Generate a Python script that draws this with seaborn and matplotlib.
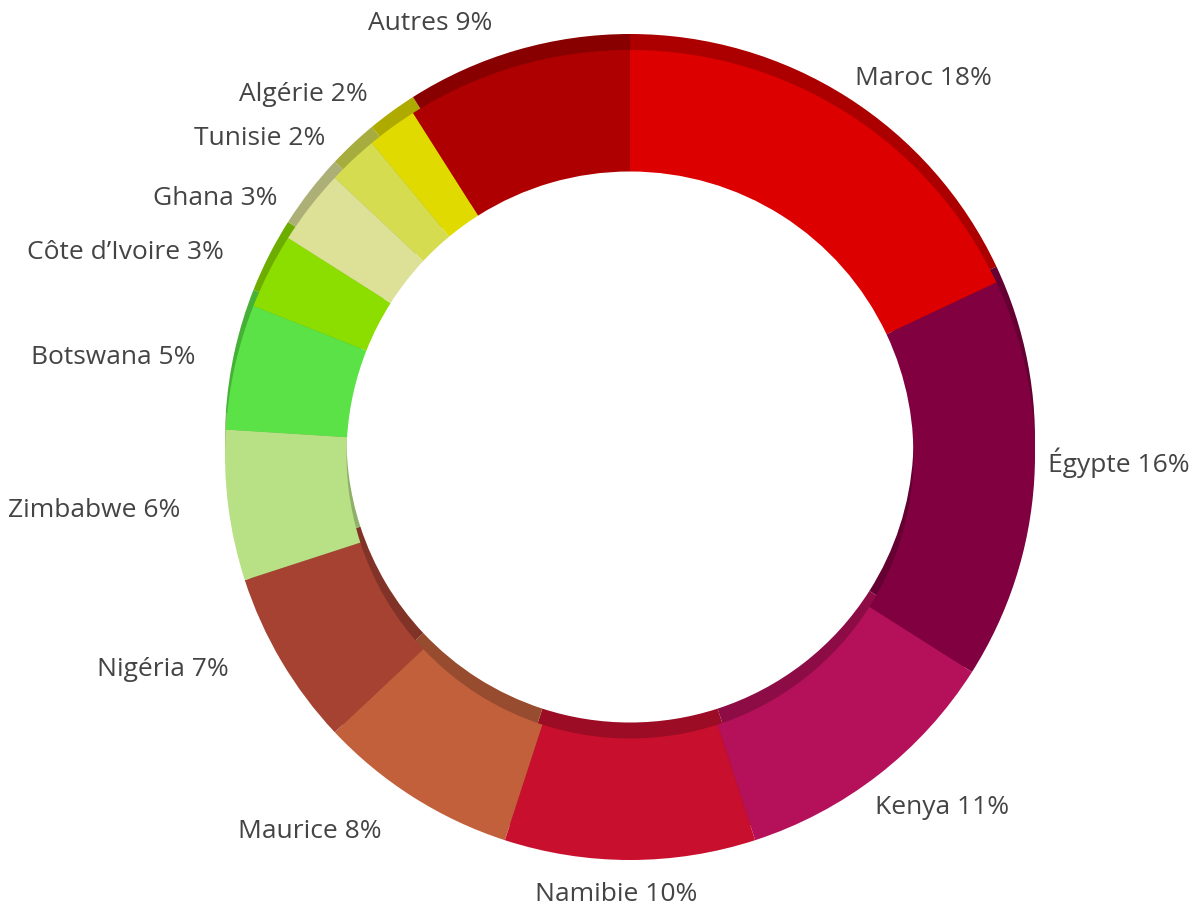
import matplotlib
matplotlib.use("Agg")
import matplotlib.pyplot as plt
import numpy as np
import seaborn as sns

countries = ["Maroc", "Égypte", "Kenya", "Namibie", "Maurice", "Nigéria", "Zimbabwe",
             "Botswana", "Côte d\u2019Ivoire", "Ghana", "Tunisie", "Algérie", "Autres"]
shares = [18, 16, 11, 10, 8, 7, 6, 5, 3, 3, 2, 2, 9]
colors = ["#DD0000", "#800040", "#B5105A", "#C8102E", "#C2603C", "#A64232", "#B8E186",
          "#5AE246", "#8CDE00", "#DDE097", "#D6DC50", "#E0DA00", "#AE0000"]

# small label nudges (radius units) where the labels were pushed apart
nudge = {"Égypte": (0, 0.05), "Kenya": (-0.03, 0), "Namibie": (-0.035, 0.015),
         "Maurice": (-0.024, 0), "Nigéria": (-0.043, 0.03), "Zimbabwe": (-0.018, 0),
         "Côte d\u2019Ivoire": (-0.022, 0), "Ghana": (0, -0.04), "Tunisie": (0, -0.02),
         "Autres": (-0.033, 0.01)}

sns.set_theme(style="white")
plt.rcParams["font.family"] = ["Open Sans", "DejaVu Sans"]

palette = sns.color_palette(colors)
dark = [tuple(c * 0.78 for c in col) for col in palette]

fig = plt.figure(figsize=(11.93, 9.08), dpi=100)
ax = fig.add_axes([0, 0, 1, 1])

R = 405.0  # radius in pixels
cx, cy = 630.0, 453.0
shift = 16 / R

# darker copy shifted up gives the rim / inner shadow look
ax.pie(shares, colors=dark, startangle=90, counterclock=False, center=(0, shift),
       radius=1, wedgeprops=dict(width=0.3, linewidth=0), frame=True)
wedges, _ = ax.pie(shares, colors=palette, startangle=90, counterclock=False,
                   radius=1, wedgeprops=dict(width=0.3, linewidth=0), frame=True)
ax.set_xlim(-cx / R, (1193 - cx) / R)
ax.set_ylim(-cy / R, (908 - cy) / R)
ax.set_aspect("equal")
ax.axis("off")

for w, name, val in zip(wedges, countries, shares):
    ang = np.deg2rad((w.theta1 + w.theta2) / 2)
    x = np.cos(ang)
    y = 1.1 * np.sin(ang)
    if abs(x) < 0.1:
        ha = "center"
        x = 0
    elif x > 0:
        ha = "left"
        x = 1.035 * x
    else:
        ha = "right"
        x = 1.1 * x
    dx, dy = nudge.get(name, (0, 0))
    ax.text(x + dx, y + dy, f"{name} {val}%", ha=ha, va="center", fontsize=19,
            color="#444444")

fig.savefig("out.png", dpi=100)
